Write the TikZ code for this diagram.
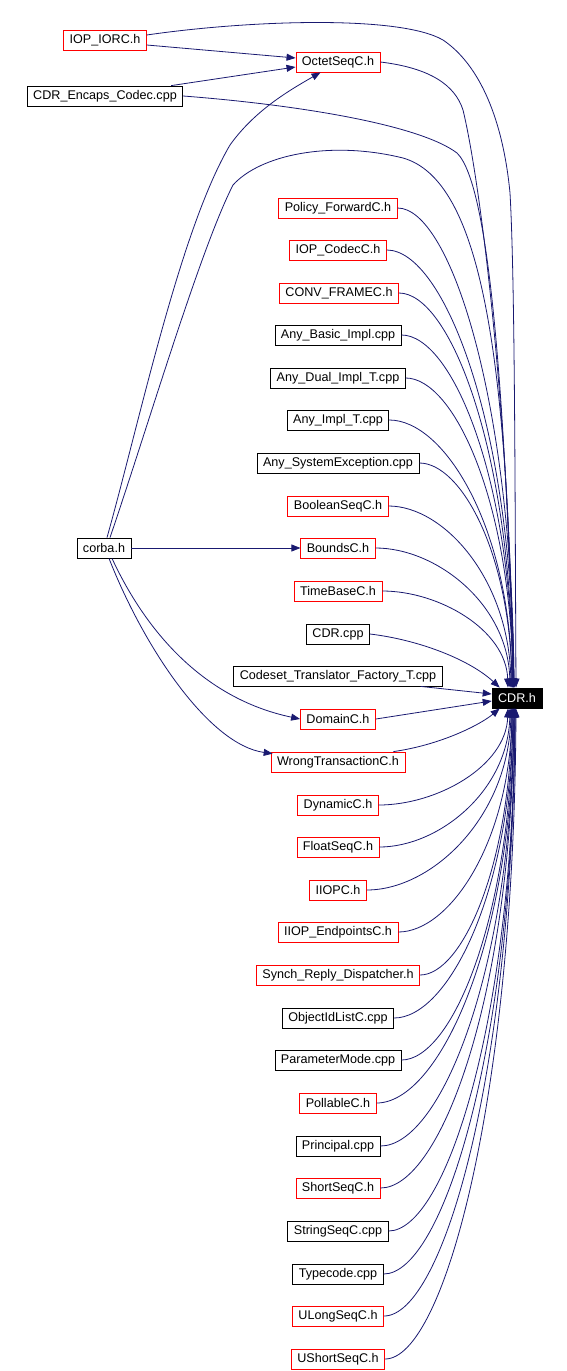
\documentclass[tikz,border=0pt]{standalone}
\usepackage{fontspec}
\setmainfont{Liberation Sans}
\usetikzlibrary{arrows.meta,calc}
\definecolor{edgeblue}{RGB}{25,25,112}
\tikzset{
  nbox/.style={draw, line width=0.8pt, minimum height=20pt, inner xsep=6pt, inner ysep=0pt,
    font=\fontsize{12.6}{14}\selectfont, text=black, fill=white},
  rbox/.style={nbox, draw=red},
  bbox/.style={nbox, draw=black},
  cdrbox/.style={nbox, draw=black, fill=black, text=white},
  e/.style={draw=edgeblue, line width=0.8pt, -{Triangle[length=9pt,width=7pt]}, edgeblue},
}
\begin{document}
\begin{tikzpicture}[x=1pt,y=-1pt]
\useasboundingbox (0,0) rectangle (566,1371);
% nodes
\node[rbox] (iopiorc) at (105,40) {IOP\_IORC.h};
\node[rbox] (octet) at (338,62) {OctetSeqC.h};
\node[bbox] (encaps) at (105,96) {CDR\_Encaps\_Codec.cpp};
\node[rbox] (policy) at (338,208) {Policy\_ForwardC.h};
\node[rbox] (codec) at (338,250) {IOP\_CodecC.h};
\node[rbox] (conv) at (339,293) {CONV\_FRAMEC.h};
\node[bbox] (anybasic) at (338,335) {Any\_Basic\_Impl.cpp};
\node[bbox] (anydual) at (338,378) {Any\_Dual\_Impl\_T.cpp};
\node[bbox] (anyimpl) at (338,420) {Any\_Impl\_T.cpp};
\node[bbox] (anysys) at (338,463) {Any\_SystemException.cpp};
\node[rbox] (boolean) at (338,506) {BooleanSeqC.h};
\node[bbox] (corba) at (104,548) {corba.h};
\node[rbox] (bounds) at (338,548) {BoundsC.h};
\node[rbox] (timebase) at (338,591) {TimeBaseC.h};
\node[bbox] (cdrcpp) at (338,634) {CDR.cpp};
\node[bbox] (codeset) at (338,676) {Codeset\_Translator\_Factory\_T.cpp};
\node[cdrbox] (cdr) at (517,698) {CDR.h};
\node[rbox] (domain) at (338,719) {DomainC.h};
\node[rbox] (wrong) at (338,762) {WrongTransactionC.h};
\node[rbox] (dynamic) at (338,805) {DynamicC.h};
\node[rbox] (float) at (338,847) {FloatSeqC.h};
\node[rbox] (iiopc) at (338,890) {IIOPC.h};
\node[rbox] (iiopend) at (338,932) {IIOP\_EndpointsC.h};
\node[rbox] (synch) at (338,975) {Synch\_Reply\_Dispatcher.h};
\node[bbox] (objid) at (338,1018) {ObjectIdListC.cpp};
\node[bbox] (param) at (338,1060) {ParameterMode.cpp};
\node[rbox] (pollable) at (338,1103) {PollableC.h};
\node[bbox] (principal) at (338,1146) {Principal.cpp};
\node[rbox] (short) at (338,1188) {ShortSeqC.h};
\node[bbox] (string) at (338,1231) {StringSeqC.cpp};
\node[bbox] (typecode) at (338,1274) {Typecode.cpp};
\node[rbox] (ulong) at (338,1316) {ULongSeqC.h};
\node[rbox] (ushort) at (338,1359) {UShortSeqC.h};

% special edges
\draw[e] ($(iopiorc.east)+(0,-5)$) .. controls (250,20) and (400,15) .. (443,40)
   .. controls (480,65) and (503,120) .. (510,193)
   .. controls (515,280) and (515,500) .. ($(cdr.north)+(-1,0)$);
\draw[e] ($(iopiorc.east)+(0,5)$) -- ($(octet.west)+(0,-4)$);
\draw[e] ($(encaps.north east)+(-12,0)$) -- ($(octet.west)+(0,5)$);
\draw[e] (encaps.east) .. controls (300,105) and (420,125) .. (457,153)
   .. controls (490,185) and (505,400) .. ($(cdr.north)+(-3,0)$);
\draw[e] (octet.east) .. controls (430,68) and (455,85) .. (463,110)
   .. controls (480,180) and (508,400) .. ($(cdr.north)+(-3,0)$);
\draw[e] ($(corba.north)+(6,0)$) .. controls (150,420) and (200,250) .. (233,185)
   .. controls (260,155) and (330,140) .. (403,158)
   .. controls (480,180) and (508,350) .. ($(cdr.north)+(-4,0)$);
\draw[e] ($(corba.north)+(3,0)$) .. controls (140,420) and (180,230) .. (230,145)
   .. controls (255,110) and (290,90) .. ($(octet.south west)+(25,0)$);
\draw[e] (corba.east) -- (bounds.west);
\draw[e] ($(corba.south)+(8,0)$) .. controls (150,640) and (210,700) .. (domain.west);
\draw[e] ($(corba.south)+(5,0)$) .. controls (145,650) and (210,745) .. ($(wrong.north west)+(2,2)$);

% generic edges from above
\foreach \src/\dx in {policy/-3,codec/-3,conv/-4,anybasic/-4,anydual/-4,anyimpl/-5,anysys/-5,boolean/-6,bounds/-7,timebase/-9} {
  \draw[e] let \p1=(\src.east), \p2=($(cdr.north)+(\dx,0)$) in
    (\p1) .. controls ({\x1+0.45*(\x2-\x1)},\y1) and ({\x2-2pt},{\y2+0.6*(\y1-\y2)}) .. (\p2);
}
\draw[e] (cdrcpp.east) .. controls (420,640) and (470,660) .. ($(cdr.north west)+(8,0)$);
\draw[e] ($(codeset.south east)+(-22,0)$) -- ($(cdr.west)+(0,-4)$);
\draw[e] (domain.east) -- ($(cdr.west)+(0,3)$);
\draw[e] ($(wrong.north east)+(-12,0)$) .. controls (440,745) and (480,725) .. ($(cdr.south west)+(8,0)$);
% generic edges from below
\foreach \src/\dx in {dynamic/-9,float/-7,iiopc/-6,iiopend/-5,synch/-5,objid/-4,param/-4,pollable/-3,principal/-3,short/-3,string/-2,typecode/-2,ulong/-2,ushort/-1} {
  \draw[e] let \p1=(\src.east), \p2=($(cdr.south)+(\dx,0)$) in
    (\p1) .. controls ({\x1+0.45*(\x2-\x1)},\y1) and ({\x2-2pt},{\y2+0.6*(\y1-\y2)}) .. (\p2);
}
\end{tikzpicture}
\end{document}
